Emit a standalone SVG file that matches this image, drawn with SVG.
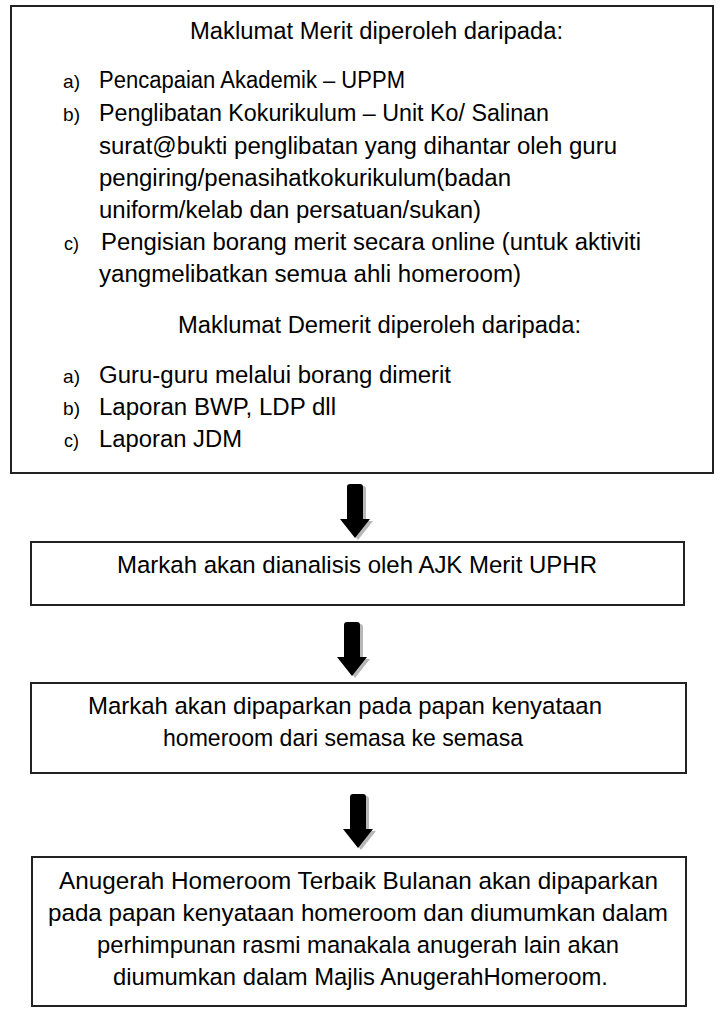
<svg xmlns="http://www.w3.org/2000/svg" width="722" height="1018" viewBox="0 0 722 1018">
<defs>
<style>
.box{fill:#fff;stroke:#222;stroke-width:2}
.t{font-family:"Liberation Sans",Arial,sans-serif;font-size:23.5px;fill:#000}
.t2{font-family:"Liberation Sans",Arial,sans-serif;font-size:24.5px;fill:#000}
.lbl{font-family:"Liberation Sans",Arial,sans-serif;font-size:19px;fill:#000}
.shadow{fill:#b8b8b8}
.arrow{fill:#000}
</style>
<path id="arr" d="M-8,0 Q-8,-3 -5,-3 L5,-3 Q8,-3 8,0 L8,32 L15,32 L0,51 L-15,32 L-8,32 Z"/>
</defs>
<rect width="722" height="1018" fill="#fff"/>
<g id="node-sumber">
<rect class="box" x="11" y="6" width="702" height="467"/>
<text class="t" x="190" y="39" textLength="373" lengthAdjust="spacingAndGlyphs">Maklumat Merit diperoleh daripada:</text>
<text class="lbl" x="63" y="88" textLength="17" lengthAdjust="spacingAndGlyphs">a)</text>
<text class="t" x="99" y="88" textLength="306" lengthAdjust="spacingAndGlyphs">Pencapaian Akademik – UPPM</text>
<text class="lbl" x="63" y="121" textLength="17" lengthAdjust="spacingAndGlyphs">b)</text>
<text class="t" x="99" y="121" textLength="450" lengthAdjust="spacingAndGlyphs">Penglibatan Kokurikulum – Unit Ko/ Salinan</text>
<text class="t" x="99" y="154" textLength="518" lengthAdjust="spacingAndGlyphs">surat@bukti penglibatan yang dihantar oleh guru</text>
<text class="t" x="99" y="186" textLength="412" lengthAdjust="spacingAndGlyphs">pengiring/penasihatkokurikulum(badan</text>
<text class="t" x="99" y="218" textLength="382" lengthAdjust="spacingAndGlyphs">uniform/kelab dan persatuan/sukan)</text>
<text class="lbl" x="64" y="250" textLength="15" lengthAdjust="spacingAndGlyphs">c)</text>
<text class="t" x="101" y="250" textLength="540" lengthAdjust="spacingAndGlyphs">Pengisian borang merit secara online (untuk aktiviti</text>
<text class="t" x="99" y="282" textLength="422" lengthAdjust="spacingAndGlyphs">yangmelibatkan semua ahli homeroom)</text>
<text class="t" x="178" y="333" textLength="403" lengthAdjust="spacingAndGlyphs">Maklumat Demerit diperoleh daripada:</text>
<text class="lbl" x="63" y="383" textLength="17" lengthAdjust="spacingAndGlyphs">a)</text>
<text class="t" x="99" y="383" textLength="352" lengthAdjust="spacingAndGlyphs">Guru-guru melalui borang dimerit</text>
<text class="lbl" x="63" y="415" textLength="17" lengthAdjust="spacingAndGlyphs">b)</text>
<text class="t" x="99" y="415" textLength="237" lengthAdjust="spacingAndGlyphs">Laporan BWP, LDP dll</text>
<text class="lbl" x="64" y="447" textLength="15" lengthAdjust="spacingAndGlyphs">c)</text>
<text class="t" x="99" y="447" textLength="143" lengthAdjust="spacingAndGlyphs">Laporan JDM</text>
</g>
<g id="node-analisis">
<rect class="box" x="31" y="542" width="653" height="63"/>
<text class="t2" x="117" y="573" textLength="480" lengthAdjust="spacingAndGlyphs">Markah akan dianalisis oleh AJK Merit UPHR</text>
</g>
<g id="node-papar">
<rect class="box" x="31" y="683" width="655" height="90"/>
<text class="t2" x="88" y="714" textLength="514" lengthAdjust="spacingAndGlyphs">Markah akan dipaparkan pada papan kenyataan</text>
<text class="t2" x="163" y="746" textLength="360" lengthAdjust="spacingAndGlyphs">homeroom dari semasa ke semasa</text>
</g>
<g id="node-anugerah">
<rect class="box" x="32" y="857" width="654" height="149"/>
<text class="t2" x="59" y="889" textLength="599" lengthAdjust="spacingAndGlyphs">Anugerah Homeroom Terbaik Bulanan akan dipaparkan</text>
<text class="t2" x="48" y="921" textLength="620" lengthAdjust="spacingAndGlyphs">pada papan kenyataan homeroom dan diumumkan dalam</text>
<text class="t2" x="97" y="953" textLength="522" lengthAdjust="spacingAndGlyphs">perhimpunan rasmi manakala anugerah lain akan</text>
<text class="t2" x="113" y="985" textLength="495" lengthAdjust="spacingAndGlyphs">diumumkan dalam Majlis AnugerahHomeroom.</text>
</g>
<g id="connectors">
<use href="#arr" class="shadow" transform="translate(358,489)"/>
<use href="#arr" class="arrow" transform="translate(355,487)"/>
<use href="#arr" class="shadow" transform="translate(355,627)"/>
<use href="#arr" class="arrow" transform="translate(352,625)"/>
<use href="#arr" class="shadow" transform="translate(361,799)"/>
<use href="#arr" class="arrow" transform="translate(358,797)"/>
</g>
</svg>
